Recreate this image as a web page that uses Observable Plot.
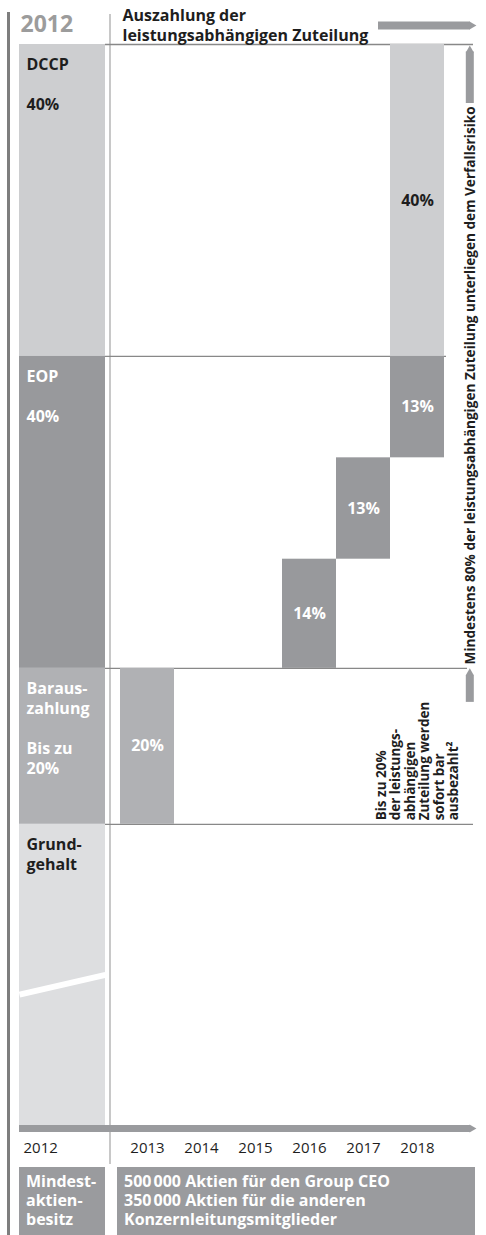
<!DOCTYPE html>
<html lang="de">
<head>
<meta charset="utf-8">
<script src="https://cdn.jsdelivr.net/npm/d3@7"></script>
<script src="https://cdn.jsdelivr.net/npm/@observablehq/plot@0.6"></script>
<style>
  body { margin: 0; background: #fff; font-family: "Open Sans", sans-serif; }
  #chart { position: relative; width: 486px; height: 1235px; overflow: hidden; background: #fff; }
  #edge { position: absolute; left: 7px; top: 12px; bottom: 0; width: 3px; background: #7e7e7e; }
  #sep { position: absolute; left: 109px; top: 14px; height: 1150px; width: 2px; background: #c8c8c8; }
  #left { position: absolute; left: 0; top: 0; width: 105px; }
  #right { position: absolute; left: 105px; top: 0; width: 381px; }
  .box { position: absolute; top: 1167px; height: 68px; background: #9a9b9e; color: #fff;
         font-weight: 700; font-size: 16px; line-height: 19px; padding: 5px 7px;
         box-sizing: border-box; white-space: pre; }
  #ownLeft { left: 19px; width: 86px; }
  #ownRight { left: 117px; width: 358px; }
</style>
</head>
<body>
<div id="chart">
  <div id="sep"></div>
  <div id="edge"></div>
  <div id="left"></div>
  <div id="right"></div>
  <div class="box" id="ownLeft"></div>
  <div class="box" id="ownRight"></div>
</div>
<script>
// ---- data -------------------------------------------------------------
const grantYear = "2012";
const years = ["2013", "2014", "2015", "2016", "2017", "2018"];

// composition of the 2012 award (share of the performance award, %)
const stageNames = ["DCCP", "EOP", "Barauszahlung", "Grundgehalt"];
const stageTitles = ["DCCP", "EOP", "Baraus-\nzahlung", "Grund-\ngehalt"];
const stageShares = [40, 40, 20, null];
const stagePrefixes = ["", "", "Bis zu\n", ""];

// payout schedule: year, component, share of the award (%)
const payoutYears = ["2018", "2018", "2017", "2016", "2013"];
const payoutStages = ["DCCP", "EOP", "EOP", "EOP", "Barauszahlung"];
const payoutShares = [40, 13, 13, 14, 20];

const headerText = "Auszahlung der\nleistungsabhängigen Zuteilung";
const forfeitNote = "Mindestens 80% der leistungsabhängigen Zuteilung unterliegen dem Verfallsrisiko";
const cashNote = "Bis zu 20%\nder leistungs-\nabhängigen\nZuteilung werden\nsofort bar\nausbezahlt²";
const ownershipTitle = "Mindest-\naktien-\nbesitz";
const ownershipText = "500\u202F000 Aktien für den Group CEO\n350\u202F000 Aktien für die anderen\nKonzernleitungsmitglieder";

// base salary has no share: its block is drawn with a break, not to scale
const baseSalaryDepth = 39;

// ---- styles -----------------------------------------------------------
const stageFill = {DCCP: "#cdced0", EOP: "#98999c", Barauszahlung: "#b0b1b4", Grundgehalt: "#dddee0"};
const stageInk = {DCCP: "#1e1e1e", EOP: "#ffffff", Barauszahlung: "#ffffff", Grundgehalt: "#1e1e1e"};
const arrowGray = "#9a9b9e";
const ruleGray = "#888888";
const FONT = "'Open Sans', sans-serif";

// ---- derived tables ---------------------------------------------------
const stageEnds = d3.cumsum(stageShares.map(v => v ?? baseSalaryDepth));
const stages = stageNames.map((name, i) => {
  const span = stageShares[i] ?? baseSalaryDepth;
  return {
    name,
    y1: stageEnds[i] - span,
    y2: stageEnds[i],
    label: stageTitles[i] + (stageShares[i] != null ? `\n\n${stagePrefixes[i]}${stageShares[i]}%` : "")
  };
});
const yMax = stageEnds[stageEnds.length - 1];
const variableEnd = stages[2].y2;

// payouts stack downward inside their component, latest year first
const filled = new Map();
const payouts = payoutYears.map((year, i) => {
  const stage = stages.find(s => s.name === payoutStages[i]);
  const y1 = filled.get(stage.name) ?? stage.y1;
  const y2 = y1 + payoutShares[i];
  filled.set(stage.name, y2);
  return {year, stage: stage.name, share: payoutShares[i], y1, y2};
});

const common = {
  height: 1160,
  marginTop: 44,
  marginBottom: 32,
  y: {domain: [0, yMax], reverse: true, axis: null},
  color: {type: "identity"},
  style: {fontFamily: FONT, fontSize: "16px", background: "none", color: "#1e1e1e", overflow: "visible"}
};

// ---- left column: the award as granted in 2012 -------------------------
const left = Plot.plot({
  ...common,
  width: 105,
  marginLeft: 19,
  marginRight: 0,
  x: {domain: [0, 1], axis: null},
  marks: [
    Plot.rect(stages, {y1: "y1", y2: "y2", fill: d => stageFill[d.name]}),
    // break in the base salary block
    Plot.link([variableEnd], {
      x1: () => 0, x2: () => 1,
      y1: d => d + baseSalaryDepth * 0.56,
      y2: d => d + baseSalaryDepth * 0.495,
      stroke: "#ffffff", strokeWidth: 6
    }),
    Plot.text(stages, {
      y: "y1", text: "label", frameAnchor: "left", textAnchor: "start", lineAnchor: "top",
      dx: 7, dy: 11, lineHeight: 1.25, fontWeight: 700, fill: d => stageInk[d.name]
    }),
    Plot.ruleY([yMax], {stroke: arrowGray, strokeWidth: 7}),
    Plot.text([grantYear], {
      text: d => d, frameAnchor: "top-left", textAnchor: "start", lineAnchor: "top",
      dx: 1, dy: -29, fontSize: 23, fontWeight: 700, fill: "#9c9c9c"
    }),
    Plot.text([grantYear], {
      text: d => d, frameAnchor: "bottom-left", textAnchor: "start", lineAnchor: "top",
      dx: 4, dy: 14, fontSize: 15, fontWeight: 400, fill: "#1e1e1e"
    })
  ]
});

// ---- right part: payout years ------------------------------------------
const right = Plot.plot({
  ...common,
  width: 381,
  marginLeft: 13,
  marginRight: 40,
  x: {type: "band", domain: years, padding: 0, label: null},
  marks: [
    Plot.ruleY([0, variableEnd], {insetLeft: -13, insetRight: -27, stroke: ruleGray, strokeWidth: 1.3}),
    Plot.ruleY([stages[0].y2], {insetLeft: -13, stroke: ruleGray, strokeWidth: 1.3}),
    Plot.ruleY([stages[1].y2], {insetLeft: -13, insetRight: -21, stroke: ruleGray, strokeWidth: 1.3}),
    Plot.barY(payouts, {x: "year", y1: "y1", y2: "y2", fill: d => stageFill[d.stage]}),
    Plot.text(payouts, {
      x: "year", y: d => (d.y1 + d.y2) / 2, text: d => `${d.share}%`,
      fontWeight: 700, fill: d => stageInk[d.stage]
    }),
    // header with arrow
    Plot.text([headerText], {
      text: d => d, frameAnchor: "top-left", textAnchor: "start", lineAnchor: "top",
      dx: 4, dy: -38, fontSize: 16, fontWeight: 700, lineHeight: 1.25, fill: "#1e1e1e"
    }),
    Plot.ruleY([0], {dy: -19, insetLeft: 260, insetRight: -24, stroke: arrowGray, strokeWidth: 8}),
    Plot.dot([0], {y: d => d, frameAnchor: "right", dx: 25.3, dy: -19, symbol: "triangle", rotate: 90, r: 2.97, fill: arrowGray, stroke: null}),
    // forfeiture span (DCCP + EOP) with up arrows and vertical note
    Plot.ruleX([0], {x: () => "2018", y1: d => d, y2: d => d, dx: 52.3, insetTop: 7.5, insetBottom: -59, stroke: arrowGray, strokeWidth: 8}),
    Plot.dot([0], {x: () => "2018", y: d => d, dx: 52.3, dy: 5.7, symbol: "triangle", r: 2.97, fill: arrowGray, stroke: null}),
    Plot.ruleX([stages[1].y2], {x: () => "2018", y1: d => d, y2: d => d, dx: 52.3, insetTop: 7, insetBottom: -34, stroke: arrowGray, strokeWidth: 8}),
    Plot.dot([stages[1].y2], {x: () => "2018", y: d => d, dx: 52.3, dy: 4.6, symbol: "triangle", r: 2.97, fill: arrowGray, stroke: null}),
    Plot.text([forfeitNote], {
      text: d => d, x: () => "2018", y: () => stages[1].y2, dx: 53, dy: -4, rotate: -90,
      textAnchor: "start", lineAnchor: "middle", fontSize: 13.6, fontWeight: 700, fill: "#1e1e1e"
    }),
    // immediate cash note
    Plot.text([cashNote], {
      text: d => d, x: () => "2018", y: () => variableEnd, dy: -4, rotate: -90,
      textAnchor: "start", lineAnchor: "middle", lineHeight: 1.07, fontSize: 13.5, fontWeight: 700, fill: "#1e1e1e"
    }),
    // time axis arrow
    Plot.ruleY([yMax], {insetLeft: -13, insetRight: -24, stroke: arrowGray, strokeWidth: 7}),
    Plot.dot([yMax], {y: d => d, frameAnchor: "right", dx: 25.3, symbol: "triangle", rotate: 90, r: 2.97, fill: arrowGray, stroke: null}),
    Plot.axisX({tickSize: 0, tickPadding: 14, label: null, fontSize: 15, fontWeight: 400, fill: "#1e1e1e"})
  ]
});

document.getElementById("left").append(left);
document.getElementById("right").append(right);
document.getElementById("ownLeft").textContent = ownershipTitle;
document.getElementById("ownRight").textContent = ownershipText;
</script>
</body>
</html>
